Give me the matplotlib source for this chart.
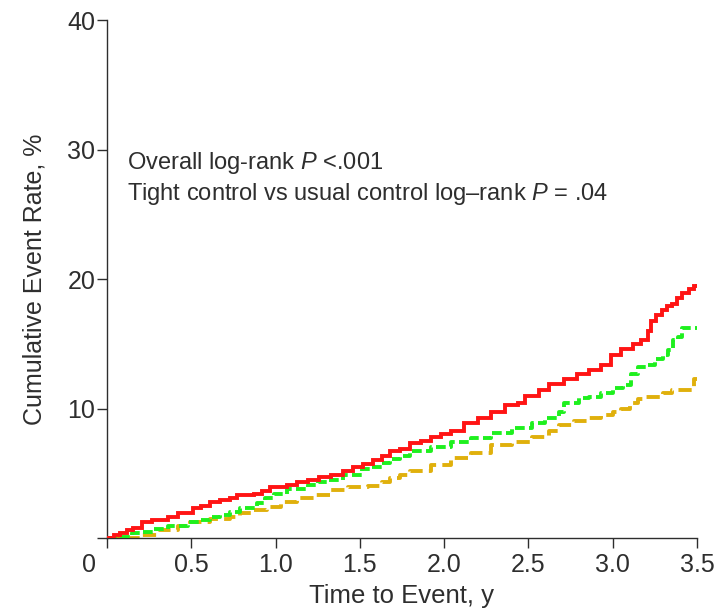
import matplotlib
matplotlib.use("Agg")
import matplotlib.pyplot as plt

plt.rcParams["font.family"] = ["Liberation Sans", "DejaVu Sans"]
plt.rcParams["mathtext.fontset"] = "custom"
plt.rcParams["mathtext.rm"] = "Liberation Sans"
plt.rcParams["mathtext.it"] = "Liberation Sans:italic"

TEXT = "#2e2e2e"

# Cumulative event rate (%) by time to event (years)
red_t = [0.0, 0.04, 0.08, 0.12, 0.155, 0.21, 0.27, 0.36, 0.42, 0.51, 0.56, 0.61,
         0.67, 0.73, 0.77, 0.87, 0.92, 0.97, 1.07, 1.13, 1.19, 1.26, 1.33, 1.40,
         1.46, 1.52, 1.58, 1.63, 1.68, 1.74, 1.80, 1.86, 1.92, 1.98, 2.04, 2.12,
         2.20, 2.28, 2.36, 2.44, 2.48, 2.56, 2.62, 2.71, 2.79, 2.86, 2.93, 2.99,
         3.05, 3.12, 3.17, 3.21, 3.23, 3.26, 3.29, 3.32, 3.35, 3.38, 3.41, 3.45,
         3.48, 3.5]
red_v = [0.0, 0.2, 0.4, 0.6, 0.8, 1.2, 1.4, 1.6, 1.9, 2.3, 2.5, 2.8,
         2.9, 3.1, 3.3, 3.4, 3.6, 3.9, 4.1, 4.3, 4.5, 4.7, 4.9, 5.2,
         5.5, 5.7, 6.0, 6.3, 6.7, 6.9, 7.3, 7.5, 7.8, 8.0, 8.3, 8.9,
         9.3, 9.7, 10.3, 10.4, 11.0, 11.4, 11.9, 12.3, 12.7, 13.0, 13.4, 14.1,
         14.6, 15.0, 15.3, 16.0, 16.8, 17.2, 17.6, 17.9, 18.1, 18.5, 18.9, 19.2,
         19.5, 19.6]

green_t = [0.0, 0.08, 0.15, 0.21, 0.28, 0.36, 0.48, 0.55, 0.61, 0.67, 0.73, 0.79,
           0.89, 0.94, 0.99, 1.07, 1.19, 1.25, 1.31, 1.40, 1.51, 1.57, 1.63, 1.68,
           1.74, 1.80, 1.92, 2.04, 2.16, 2.28, 2.40, 2.52, 2.60, 2.68, 2.71, 2.80,
           2.86, 2.93, 3.00, 3.06, 3.11, 3.15, 3.20, 3.25, 3.30, 3.33, 3.36, 3.39,
           3.41, 3.5]
green_v = [0.0, 0.1, 0.4, 0.5, 0.7, 0.9, 1.2, 1.4, 1.6, 1.8, 2.0, 2.3,
           2.7, 3.1, 3.4, 3.8, 4.1, 4.3, 4.5, 4.9, 5.3, 5.5, 5.8, 6.1,
           6.3, 6.7, 7.0, 7.4, 7.7, 8.1, 8.5, 8.9, 9.3, 9.7, 10.4, 10.8,
           10.9, 11.2, 11.6, 11.8, 12.7, 13.2, 13.4, 13.8, 14.1, 14.5, 15.3, 15.5,
           16.2, 16.2]

gold_t = [0.0, 0.12, 0.20, 0.30, 0.42, 0.49, 0.61, 0.73, 0.79, 0.87, 0.95, 1.03,
          1.13, 1.23, 1.33, 1.43, 1.55, 1.63, 1.68, 1.74, 1.80, 1.92, 2.04, 2.16,
          2.28, 2.40, 2.52, 2.62, 2.68, 2.77, 2.86, 2.93, 3.00, 3.05, 3.10, 3.15,
          3.20, 3.30, 3.35, 3.48, 3.5]
gold_v = [0.0, 0.0, 0.2, 0.6, 0.9, 1.2, 1.5, 1.6, 1.9, 2.2, 2.4, 2.8,
          3.1, 3.3, 3.7, 3.9, 4.0, 4.3, 4.6, 4.9, 5.2, 5.6, 6.2, 6.6,
          7.2, 7.4, 7.8, 8.3, 8.7, 9.0, 9.3, 9.5, 9.7, 10.0, 10.4, 10.7,
          10.9, 11.2, 11.4, 12.3, 12.3]

x_ticks = [0.5, 1.0, 1.5, 2.0, 2.5, 3.0, 3.5]
x_tick_labels = ["0.5", "1.0", "1.5", "2.0", "2.5", "3.0", "3.5"]
y_ticks = [0, 10, 20, 30, 40]
y_tick_labels = ["", "10", "20", "30", "40"]

fig = plt.figure(figsize=(7.16, 6.11), dpi=100)
ax = fig.add_axes([0.1494, 0.1195, 0.8240, 0.8475])

lw = 2.8
ax.step(red_t, red_v, where="post", color="#ff1414", lw=lw, solid_capstyle="butt",
        solid_joinstyle="miter", zorder=4)
ax.step(green_t, green_v, where="post", color="#1ef01e", lw=lw,
        linestyle=(0, (2.5, 1.1)), dash_capstyle="butt", zorder=3)
ax.step(gold_t, gold_v, where="post", color="#e0b00c", lw=lw,
        linestyle=(0, (3.4, 1.6)), dash_capstyle="butt", zorder=2)

ax.set_xlim(0, 3.5)
ax.set_ylim(0, 40)
ax.set_xticks([0] + x_ticks)
ax.set_xticklabels([""] + x_tick_labels)
ax.set_yticks(y_ticks)
ax.set_yticklabels(y_tick_labels)

for s in ("top", "right"):
    ax.spines[s].set_visible(False)
for s in ("left", "bottom"):
    ax.spines[s].set_color(TEXT)
    ax.spines[s].set_linewidth(1.0)

ax.tick_params(axis="both", direction="out", length=7, width=1.0, colors=TEXT,
               labelsize=18, labelcolor=TEXT)
ax.tick_params(axis="x", pad=4)
ax.tick_params(axis="y", pad=1.5)

ax.text(-0.107, -2.1, "0", ha="center", va="center", fontsize=18, color=TEXT,
        clip_on=False)

ax.set_xlabel("Time to Event, y", fontsize=18.5, color=TEXT, labelpad=5)
ax.set_ylabel("Cumulative Event Rate, %", fontsize=18, color=TEXT, labelpad=15)

ax.text(0.12, 29.0, "Overall log-rank $P$ <.001", fontsize=17, color=TEXT,
        va="center", ha="left")
ax.text(0.12, 26.6, "Tight control vs usual control log\u2013rank $P$ = .04",
        fontsize=17, color=TEXT, va="center", ha="left")

fig.savefig("out.png", dpi=100)
